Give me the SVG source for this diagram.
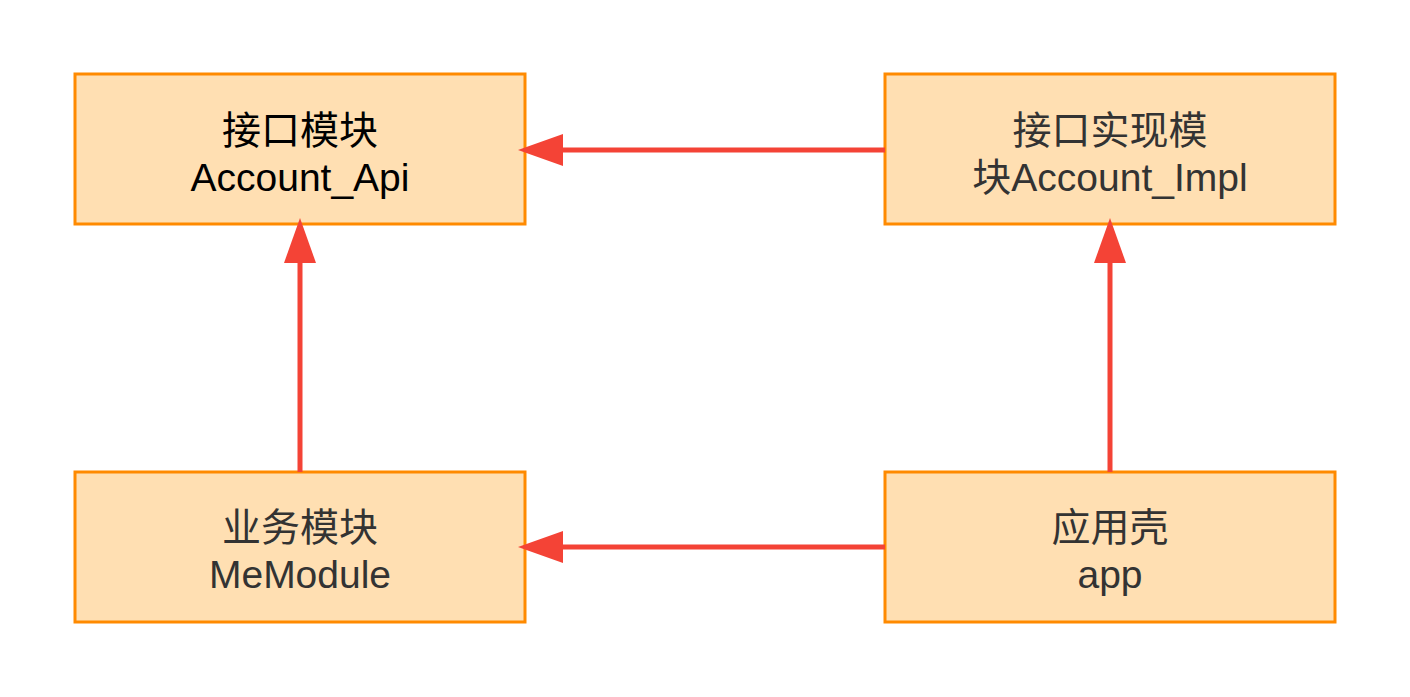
<svg xmlns="http://www.w3.org/2000/svg" width="1410" height="697" viewBox="0 0 1410 697">
<style>
.box{fill:#ffdfb2;stroke:#ff8a00;stroke-width:3}
.t{font-family:"Helvetica","Liberation Sans","Noto Sans CJK SC",sans-serif;font-size:39px;text-anchor:middle;fill:#333}
.edge{stroke:#f44336;stroke-width:5;fill:none}
.head{fill:#f44336}
</style>
<rect width="1410" height="697" fill="#fff"/>
<g id="api"><rect class="box" x="75" y="74" width="450" height="150"/><text class="t" x="300" y="144" style="fill:#000">接口模块</text><text class="t" x="300" y="191" style="fill:#000">Account_Api</text></g>
<g id="impl"><rect class="box" x="885" y="74" width="450" height="150"/><text class="t" x="1110" y="144">接口实现模</text><text class="t" x="1110" y="191">块Account_Impl</text></g>
<g id="me"><rect class="box" x="75" y="472" width="450" height="150"/><text class="t" x="300" y="541">业务模块</text><text class="t" x="300" y="588">MeModule</text></g>
<g id="app"><rect class="box" x="885" y="472" width="450" height="150"/><text class="t" x="1110" y="541">应用壳</text><text class="t" x="1110" y="588">app</text></g>
<g id="connectors">
<line class="edge" x1="885" y1="150" x2="560" y2="150"/><polygon class="head" points="518,150 563,134 563,166"/>
<line class="edge" x1="885" y1="547" x2="560" y2="547"/><polygon class="head" points="518,547 563,531 563,563"/>
<line class="edge" x1="300" y1="472" x2="300" y2="260"/><polygon class="head" points="300,218 284,263 316,263"/>
<line class="edge" x1="1110" y1="472" x2="1110" y2="260"/><polygon class="head" points="1110,218 1094,263 1126,263"/>
</g>
</svg>
